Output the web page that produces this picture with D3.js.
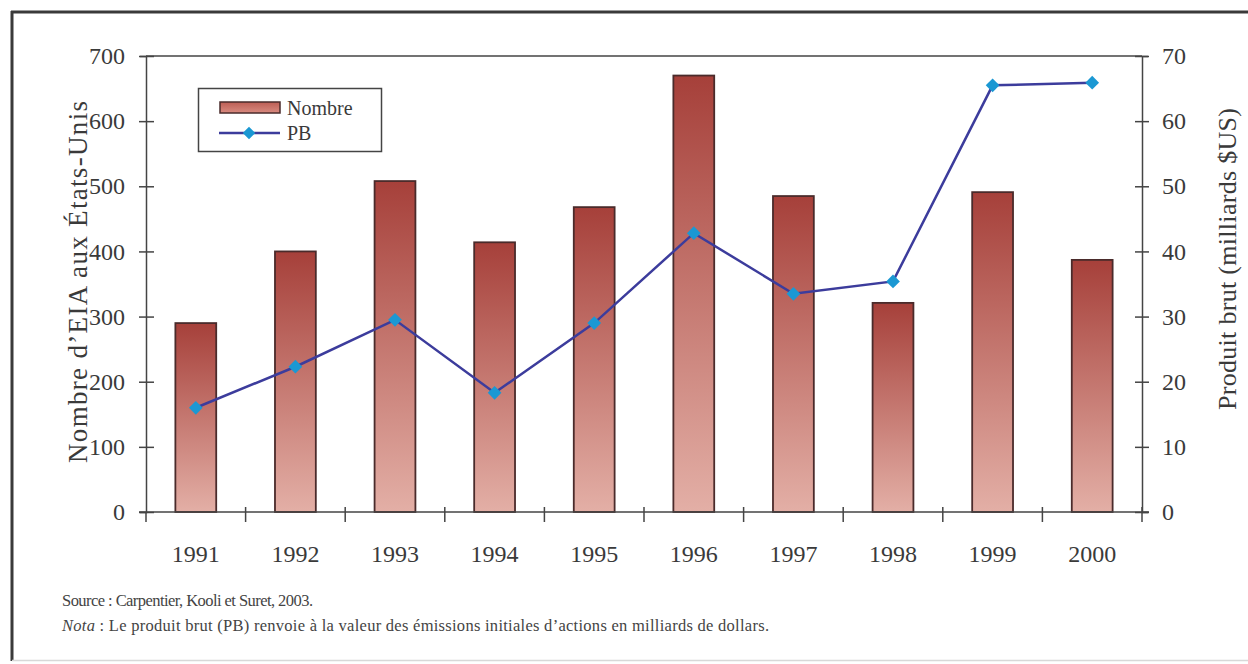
<!DOCTYPE html>
<html><head><meta charset="utf-8">
<script src="https://cdn.jsdelivr.net/npm/d3@7"></script>
<style>body{margin:0;background:#fff}svg{display:block}</style>
</head><body>
<script>
const years = ["1991","1992","1993","1994","1995","1996","1997","1998","1999","2000"];
const nombre = [290, 400, 508, 414, 468, 670, 485, 321, 491, 387];
const pb = [16.0, 22.3, 29.5, 18.3, 29.0, 42.8, 33.5, 35.4, 65.5, 65.9];
const leftTicks = [0,100,200,300,400,500,600,700];
const rightTicks = [0,10,20,30,40,50,60,70];

const W = 1248, H = 664;
const svg = d3.select("body").append("svg").attr("width", W).attr("height", H);
const font = "'Liberation Serif', 'Times New Roman', serif";
const ink = "#3a3a3a";

// frame
svg.append("line").attr("x1",11).attr("x2",W).attr("y1",12).attr("y2",12).attr("stroke","#3a3a3a").attr("stroke-width",3);
svg.append("line").attr("x1",12).attr("x2",12).attr("y1",11).attr("y2",661).attr("stroke","#3a3a3a").attr("stroke-width",3);
svg.append("line").attr("x1",12).attr("x2",W).attr("y1",660.5).attr("y2",660.5).attr("stroke","#d8d8d8").attr("stroke-width",1.5);

const pLeft = 146, pRight = 1142, pTop = 56, pBottom = 512;
const x = d3.scaleBand().domain(years).range([pLeft, pRight]).paddingInner(0.59).paddingOuter(0.295);
const xb = d3.scaleBand().domain(years).range([pLeft, pRight]);
const yL = d3.scaleLinear().domain([0,700]).range([pBottom, pTop]);
const yR = d3.scaleLinear().domain([0,70]).range([pBottom, pTop]);

const defs = svg.append("defs");
const g = defs.append("linearGradient").attr("id","barGrad").attr("x1",0).attr("x2",0).attr("y1",0).attr("y2",1);
g.append("stop").attr("offset","0%").attr("stop-color","#a6403a");
g.append("stop").attr("offset","100%").attr("stop-color","#e3afa6");
const gl = defs.append("linearGradient").attr("id","legGrad").attr("x1",0).attr("x2",0).attr("y1",0).attr("y2",1);
gl.append("stop").attr("offset","0%").attr("stop-color","#bd5e55");
gl.append("stop").attr("offset","100%").attr("stop-color","#d98b80");

// plot box top line
svg.append("line").attr("x1",pLeft).attr("x2",pRight).attr("y1",pTop).attr("y2",pTop).attr("stroke","#444").attr("stroke-width",1.5);

// bars
svg.append("g").selectAll("rect").data(years).join("rect")
  .attr("x", d => x(d)).attr("width", x.bandwidth())
  .attr("y", (d,i) => yL(nombre[i])).attr("height", (d,i) => pBottom - yL(nombre[i]))
  .attr("fill","url(#barGrad)").attr("stroke","#4a2b2b").attr("stroke-width",1.8);

// axes
const axL = svg.append("g").attr("transform",`translate(${pLeft},0)`)
  .call(d3.axisLeft(yL).tickValues(leftTicks).tickSize(6).tickPadding(15));
const axR = svg.append("g").attr("transform",`translate(${pRight},0)`)
  .call(d3.axisRight(yR).tickValues(rightTicks).tickSize(6).tickPadding(14));
const axB = svg.append("g").attr("transform",`translate(0,${pBottom})`)
  .call(d3.axisBottom(xb).tickSize(0).tickPadding(33));
[axL, axR, axB].forEach(a => {
  a.attr("font-family", font);
  a.select(".domain").attr("stroke","#444").attr("stroke-width",1.5);
  a.selectAll(".tick line").attr("stroke","#444").attr("stroke-width",1.5);
  a.selectAll("text").attr("font-family",font).attr("font-size",24).attr("fill",ink);
});
axB.select(".domain").attr("d", `M${pLeft-7},0H${pRight+7}`);
axL.selectAll(".tick line").attr("x1",8).attr("x2",-7);
axR.selectAll(".tick line").attr("x1",-7).attr("x2",7);
// x boundary ticks
svg.append("g").selectAll("line").data(years.slice(1).concat(["end"])).join("line")
  .attr("x1", d => d==="end" ? pRight : xb(d)).attr("x2", d => d==="end" ? pRight : xb(d))
  .attr("y1", pBottom-5).attr("y2", pBottom+10).attr("stroke","#444").attr("stroke-width",1.5);
svg.append("line").attr("x1",pLeft).attr("x2",pLeft).attr("y1",pBottom).attr("y2",pBottom+10).attr("stroke","#444").attr("stroke-width",1.5);

// line
const cx = d => xb(d) + xb.bandwidth()/2;
const line = d3.line().x((d,i) => cx(years[i])).y(d => yR(d));
svg.append("path").datum(pb).attr("d", line).attr("fill","none").attr("stroke","#3c3c9c").attr("stroke-width",2.5);
const diamond = d3.symbol().type(d3.symbolDiamond2).size(120);
svg.append("g").selectAll("path").data(pb).join("path")
  .attr("transform",(d,i)=>`translate(${cx(years[i])},${yR(d)})`)
  .attr("d", diamond).attr("fill","#1b98d3");

// axis titles
svg.append("text").attr("transform","translate(87,282) rotate(-90)").attr("text-anchor","middle")
  .attr("font-family",font).attr("font-size",27).attr("fill",ink)
  .attr("textLength",362).attr("lengthAdjust","spacing").text("Nombre d’EIA aux États-Unis");
svg.append("text").attr("transform","translate(1236,259) rotate(-90)").attr("text-anchor","middle")
  .attr("font-family",font).attr("font-size",26).attr("fill",ink)
  .attr("textLength",302).attr("lengthAdjust","spacing").text("Produit brut (milliards $US)");

// legend
const lg = svg.append("g");
lg.append("rect").attr("x",198.5).attr("y",88.5).attr("width",183).attr("height",63).attr("fill","#fff").attr("stroke","#444").attr("stroke-width",1.5);
lg.append("rect").attr("x",220).attr("y",102).attr("width",60).attr("height",11).attr("fill","url(#legGrad)").attr("stroke","#4a2b2b").attr("stroke-width",1.5);
lg.append("text").attr("x",287).attr("y",115).attr("font-family",font).attr("font-size",20).attr("fill",ink).text("Nombre");
lg.append("line").attr("x1",219).attr("x2",280).attr("y1",133).attr("y2",133).attr("stroke","#3c3c9c").attr("stroke-width",2.5);
lg.append("path").attr("transform","translate(249,133)").attr("d", d3.symbol().type(d3.symbolDiamond2).size(100)).attr("fill","#1b98d3");
lg.append("text").attr("x",287).attr("y",140).attr("font-family",font).attr("font-size",20).attr("fill",ink).text("PB");

// notes
svg.append("text").attr("x",62).attr("y",606).attr("font-family",font).attr("font-size",16.5).attr("fill","#444")
  .attr("textLength",251).attr("lengthAdjust","spacing")
  .text("Source : Carpentier, Kooli et Suret, 2003.");
const nt = svg.append("text").attr("x",62).attr("y",631).attr("font-family",font).attr("font-size",16.5).attr("fill","#444")
  .attr("textLength",707).attr("lengthAdjust","spacing");
nt.append("tspan").attr("font-style","italic").text("Nota");
nt.append("tspan").text(" : Le produit brut (PB) renvoie à la valeur des émissions initiales d’actions en milliards de dollars.");
</script>
</body></html>
